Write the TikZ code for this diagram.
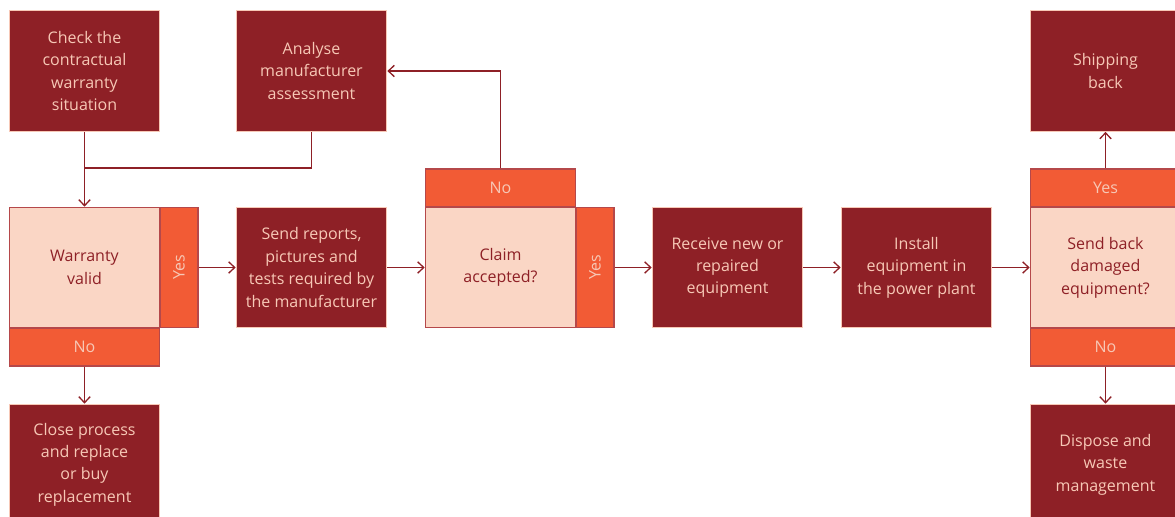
\documentclass[tikz,border=0pt]{standalone}
\usepackage{fontspec}
\setmainfont{Open Sans}
\usetikzlibrary{arrows.meta}
\definecolor{wine}{HTML}{8E2026}
\definecolor{blush}{HTML}{FAD6C5}
\definecolor{flame}{HTML}{F25B35}
\definecolor{petal}{HTML}{F7C8B6}
\definecolor{rim}{HTML}{B5484A}
\begin{document}
\begin{tikzpicture}[x=0.75pt,y=-0.75pt,
    task/.style={rectangle,fill=wine,draw=petal,line width=0.8pt,minimum width=113pt,minimum height=90.5pt,inner sep=0pt,align=center,text=petal,font=\fontsize{12}{16.8}\selectfont},
    query/.style={task,fill=blush,draw=rim,text=wine},
    tab/.style={rectangle,fill=flame,draw=rim,line width=0.8pt,inner sep=0pt,text=petal,font=\fontsize{12}{16.8}\selectfont},
    flow/.style={draw=wine,line width=1pt,-{Straight Barb[length=4.5pt,width=8.5pt]}}]
\useasboundingbox (0,0) rectangle (1175,517);
\clip (0,0) rectangle (1175,517);
\node[task] (check) at (84.5,71) {Check the\\contractual\\warranty\\situation};
\node[task] (analyse) at (311.5,71) {Analyse\\manufacturer\\assessment};
\node[query] (valid) at (84.5,267.5) {Warranty\\valid};
\node[tab,minimum width=28.5pt,minimum height=90.5pt] (validyes) at (179,267.5) {\rotatebox{90}{Yes}};
\node[tab,minimum width=113pt,minimum height=28.5pt] (validno) at (84.5,347) {No};
\node[task] (send) at (311.5,267.5) {Send reports,\\pictures and\\tests required by\\the manufacturer};
\node[query] (claim) at (500.5,267.5) {Claim\\accepted?};
\node[tab,minimum width=113pt,minimum height=28.5pt] (claimno) at (500.5,188) {No};
\node[tab,minimum width=28.5pt,minimum height=90.5pt] (claimyes) at (595,267.5) {\rotatebox{90}{Yes}};
\node[task] (receive) at (727.5,267.5) {Receive new or\\repaired\\equipment};
\node[task] (install) at (916.5,267.5) {Install\\equipment in\\the power plant};
\node[query] (back) at (1105.5,267.5) {Send back\\damaged\\equipment?};
\node[tab,minimum width=113pt,minimum height=28.5pt] (backyes) at (1105.5,188) {Yes};
\node[tab,minimum width=113pt,minimum height=28.5pt] (backno) at (1105.5,347) {No};
\node[task] (ship) at (1105.5,71) {Shipping\\back};
\node[task] (dispose) at (1105.5,464.5) {Dispose and\\waste\\management};
\node[task] (close) at (84.5,464.5) {Close process\\and replace\\or buy\\replacement};
\coordinate (join) at (84.5,168);
\draw[draw=wine,line width=1pt] (analyse.south) |- (join);
\draw[flow] (check.south) -- (valid.north);
\draw[flow] (claimno.north) |- (analyse.east);
\foreach \a/\b in {validyes/send,send/claim,claimyes/receive,receive/install,install/back}
{
\draw[flow] (\a) -- (\b);
}
\draw[flow] (validno) -- (close);
\draw[flow] (backyes) -- (ship);
\draw[flow] (backno) -- (dispose);
\end{tikzpicture}
\end{document}
